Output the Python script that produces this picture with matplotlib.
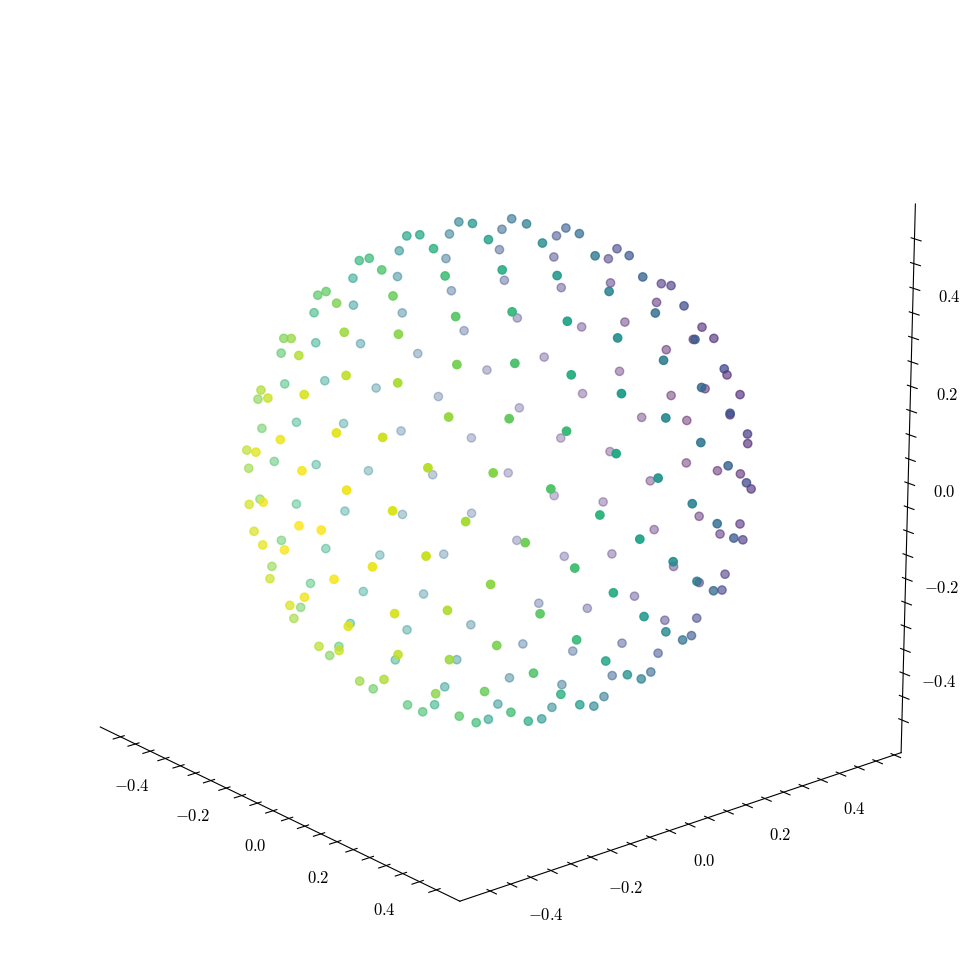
import numpy as np
import matplotlib
matplotlib.use('Agg')
import matplotlib.pyplot as plt

plt.rcParams['mathtext.fontset'] = 'cm'
plt.rcParams['font.family'] = 'serif'
plt.rcParams['font.size'] = 12

# point coordinates, in thousandths
x = [-187,-331,-238,-189,-88,-377,-399,-273,-226,7,-131,-438,-402,-445,-41,86,-297,-228,-459,-479,-397,-144,-461,-454,-492,28,-492,145,-279,-369,-205,-63,-423,-483,-499,-476,61,163,-97,-295,-200,-449,-484,-478,-362,-6,116,-391,-140,-248,-448,-457,215,-431,-2,62,-231,-389,-167,-59,-417,-404,-138,-190,-72,-274,-31,-346,66,-391,34,-211,-124,-2,-276,136,-320,101,-137,-55,54,-202,202,-237,158,-410,226,-336,293,-232,223,-397,297,-312,363,161,12,-73,119,208,53,111,-122,261,-19,241,303,-134,133,346,59,326,186,-43,384,-172,329,179,-451,260,-354,341,-250,-410,408,-282,260,-434,355,-349,425,-265,-369,335,-287,412,279,-360,-195,414,-48,404,62,254,-124,448,-4,399,157,364,259,460,-185,457,5,111,450,214,412,309,-81,485,-171,472,493,81,478,264,176,441,338,-34,495,-106,-312,-199,-356,86,179,-360,-21,-109,-286,-204,208,-280,-300,89,-76,-230,18,-166,179,-218,-13,98,-81,-35,458,370,-328,302,-237,-178,417,-84,351,-135,432,-35,271,-183,364,-80,28,-122,191,280,347,-58,-14,92,313,5,162,259,52,144,223,145,232,497,61,281,475,172,435,324,477,1,472,130,254,447,398,312,58,199,422,121,390,344,263,189]
y = [-80,17,-159,-173,-223,-65,67,-236,-252,-272,-301,-16,-145,116,-354,-323,-303,-338,-97,34,-233,-385,169,-181,-49,-405,84,-373,-375,-314,-415,-436,-264,-130,4,136,-456,-425,-469,-400,-450,-214,-80,51,-345,-488,-476,-296,-480,-432,-160,-28,-444,102,-500,-496,-434,-245,-462,-492,-110,20,-87,55,-8,100,-140,150,-191,201,-56,184,136,71,232,-107,282,24,264,218,159,313,-25,363,-241,250,-158,330,-77,414,-292,300,-211,382,-127,107,294,346,232,189,376,350,395,56,428,268,138,445,414,4,458,221,398,477,88,465,296,441,215,-343,351,-262,433,269,-177,402,-394,185,-313,317,-230,370,235,-364,288,-282,-415,153,338,-45,496,169,489,408,484,38,500,249,471,328,426,118,452,-95,492,481,199,449,283,391,471,-13,422,-148,68,460,147,404,431,225,344,441,-67,390,-329,-421,-198,-485,-465,-59,-474,-442,-278,-359,-435,-10,-141,-454,-397,-226,-421,-300,-404,-91,-346,-374,-258,-208,-198,-332,73,-382,123,255,-249,305,-301,176,-170,224,-352,41,-220,94,141,-41,-321,-272,-136,-120,8,60,-58,-202,-238,-188,-72,-180,-113,-12,49,17,410,350,99,380,179,303,-117,358,-34,326,300,45,133,234,275,247,-87,194,-3,74,171,113]
z = [457,374,410,429,439,322,294,346,368,419,377,241,260,196,351,372,265,289,173,139,195,285,94,105,74,292,30,300,178,123,189,237,37,5,-31,-70,196,207,144,55,87,-51,-97,-138,-13,109,100,-97,7,-38,-154,-202,78,-232,1,9,-89,-196,-93,-66,-253,-294,472,459,495,406,479,328,457,239,496,414,465,495,347,469,262,489,402,446,471,333,457,250,408,139,417,168,398,157,339,47,343,79,319,461,404,353,427,413,325,340,281,423,258,346,373,185,246,361,193,308,239,142,308,66,233,152,-6,255,-35,255,5,-97,229,-93,165,-165,162,-168,130,-207,-243,71,-292,31,-2,-311,-313,277,39,241,83,137,-25,219,-4,170,56,101,32,155,-108,179,-91,-77,87,-49,23,-42,-148,119,-207,72,51,-178,-12,-131,-183,-70,-130,-234,11,-295,-210,-182,-290,-87,-40,-342,-157,-207,-302,-282,-134,-414,-374,-190,-294,-382,-269,-364,-234,-441,-361,-317,-420,-453,-27,-53,-370,-113,-423,-391,-119,-387,-190,-448,-187,-446,-230,-463,-263,-485,-479,-483,-332,-313,-333,-482,-500,-488,-385,-457,-409,-384,-492,-443,-433,-478,-440,-54,-280,-220,-120,-276,-170,-230,-91,-349,-161,-356,-309,-219,-272,-313,-414,-387,-254,-445,-313,-355,-389,-449]

x_ticks = [-0.5, -0.45, -0.4, -0.35, -0.3, -0.25, -0.2, -0.15, -0.1, -0.05, 0.0, 0.05, 0.1, 0.15, 0.2, 0.25, 0.3, 0.35, 0.4, 0.45, 0.5]
y_ticks = x_ticks + [0.55]
z_ticks = x_ticks
labelled = [-0.4, -0.2, 0.0, 0.2, 0.4]

def tick_labels(ticks):
    return ['$%.1f$' % t if t in labelled else '' for t in ticks]

xs = np.array(x) / 1000
ys = np.array(y) / 1000
zs = np.array(z) / 1000

fig = plt.figure(figsize=(9.71, 9.71), dpi=100)
ax = fig.add_axes([-0.0008, 0.0003, 1.001, 1.001], projection='3d')

# colour follows y
ax.scatter(xs, ys, zs, c=-ys, s=36)

ax.set_xlim(-0.569, 0.569, view_margin=0)
ax.set_ylim(-0.574, 0.569, view_margin=0)
ax.set_zlim(-0.57, 0.57, view_margin=0)
ax.set_box_aspect((1.138, 1.143, 1.14))
ax.view_init(elev=19.25, azim=-40)
ax.set_proj_type('persp', focal_length=1.047)

ax.grid(False)
for a in (ax.xaxis, ax.yaxis, ax.zaxis):
    a.pane.set_visible(False)

ax.set_xticks(x_ticks)
ax.set_xticklabels(tick_labels(x_ticks))
ax.set_yticks(y_ticks)
ax.set_yticklabels(tick_labels(y_ticks))
ax.set_zticks(z_ticks)
ax.set_zticklabels(tick_labels(z_ticks))
ax.tick_params(axis='x', pad=6.5)
ax.tick_params(axis='y', pad=6.5)
ax.tick_params(axis='z', pad=8)

fig.savefig('out.png', dpi=100)
